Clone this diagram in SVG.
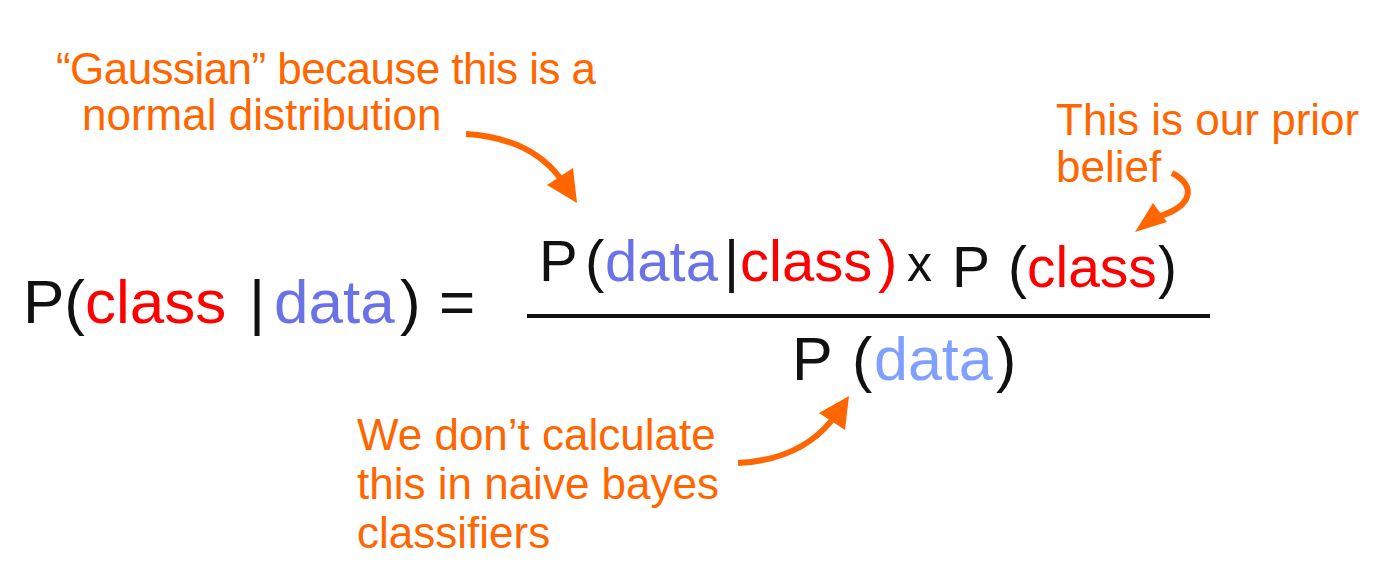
<svg xmlns="http://www.w3.org/2000/svg" width="1382" height="574" viewBox="0 0 1382 574">
<style>
text{font-family:"Liberation Sans",Arial,sans-serif}
.k{fill:#111}
.r{fill:#ff0000}
.b{fill:#6b72e8}
.lb{fill:#80a0ff}
.note{fill:#ff6600;font-size:44px}
.arr{fill:none;stroke:#ff6600;stroke-width:6;stroke-linecap:butt}
.head{fill:#ff6600}
</style>
<rect width="1382" height="574" fill="#fff"/>
<g id="lhs" font-size="62">
<text y="323"><tspan class="k" x="23">P(</tspan><tspan class="r">class</tspan><tspan class="k" x="249">|</tspan><tspan class="b" x="274">data</tspan><tspan class="k" x="400">)</tspan><tspan class="k" x="439">=</tspan></text>
</g>
<g id="numerator">
<text y="281" font-size="58"><tspan class="k" x="539">P</tspan><tspan class="k" x="585">(</tspan><tspan class="b" x="605">data</tspan><tspan class="k" x="724">|</tspan><tspan class="r" x="740">class</tspan><tspan class="r" x="878">)</tspan></text>
<text x="907" y="281" font-size="50" class="k">x</text>
<text y="287" font-size="57"><tspan class="k" x="952">P</tspan><tspan class="k" x="1008">(</tspan><tspan class="r" x="1027">class</tspan><tspan class="k" x="1158">)</tspan></text>
</g>
<g id="fraction-bar">
<line x1="527" y1="316" x2="1210" y2="316" stroke="#111" stroke-width="4"/>
</g>
<g id="denominator">
<text y="380" font-size="61"><tspan class="k" x="792">P</tspan><tspan class="k" x="852">(</tspan><tspan class="lb" x="874">data</tspan><tspan class="k" x="996">)</tspan></text>
</g>
<g id="note-gaussian">
<text class="note"><tspan x="56" y="84" textLength="540">“Gaussian” because this is a</tspan><tspan x="82" y="130">normal distribution</tspan></text>
</g>
<g id="note-prior">
<text class="note"><tspan x="1056" y="135">This is our prior</tspan><tspan x="1056" y="182">belief</tspan></text>
</g>
<g id="note-evidence">
<text class="note"><tspan x="357" y="450">We don’t calculate</tspan><tspan x="357" y="499">this in naive bayes</tspan><tspan x="357" y="548">classifiers</tspan></text>
</g>
<g id="connectors">
<path class="arr" d="M466,134 Q530,138 560,178"/>
<polygon class="head" points="573,168 547,185 577,203"/>
<path class="arr" d="M1172,173 C1197,186 1192,206 1160,216"/>
<polygon class="head" points="1153,203 1167,222 1135,232"/>
<path class="arr" d="M738,463 Q800,460 832,420"/>
<polygon class="head" points="819,413 845,430 849,396"/>
</g>
</svg>
